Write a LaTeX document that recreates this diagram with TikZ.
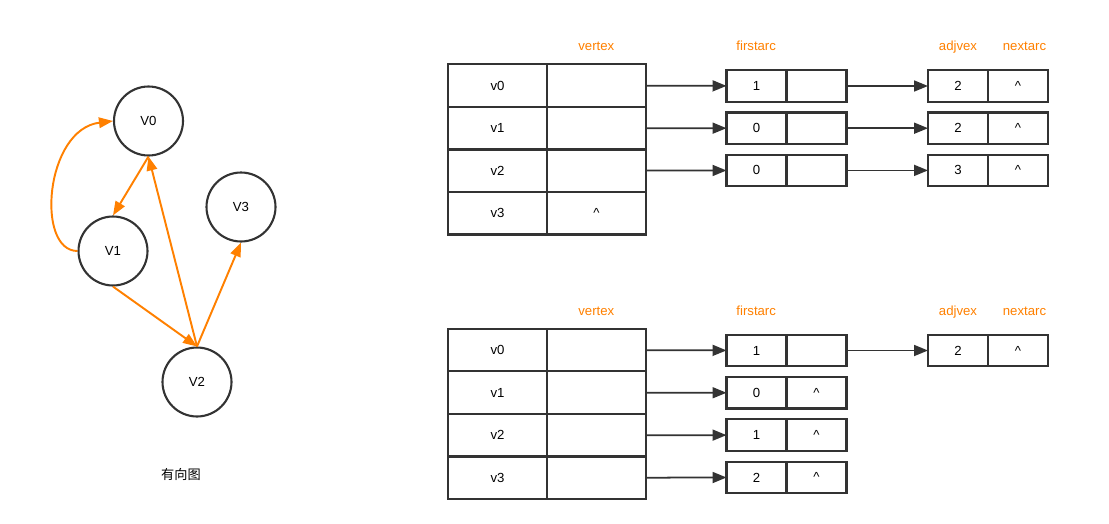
\documentclass[tikz,border=0pt]{standalone}
\usepackage{fontspec}
\setmainfont{Liberation Sans}
\newfontfamily\cjk{Noto Sans CJK SC}
\usetikzlibrary{arrows.meta}
\definecolor{edgeorange}{RGB}{255,128,0}
\definecolor{linegray}{RGB}{51,51,51}

\begin{document}
\begin{tikzpicture}[x=0.02cm, y=-0.02cm, font=\fontsize{7.5}{9}\selectfont]
	\tikzstyle{vert}=[circle, draw=linegray, line width=1.2pt, minimum size=1.38cm, inner sep=0pt]
	\tikzstyle{cell}=[rectangle, draw=linegray, line width=1.2pt, minimum width=1.98cm, minimum height=0.85cm, inner sep=0pt, outer sep=0pt]
	\tikzstyle{box}=[rectangle, draw=linegray, line width=1.2pt, minimum width=1.2cm, minimum height=0.63cm, inner sep=0pt, outer sep=0pt]
	\tikzstyle{field}=[text=edgeorange, anchor=base]
	\tikzstyle{link}=[draw=linegray, line width=1pt, -{Triangle[length=0.28cm, width=0.22cm]}]
	\tikzstyle{dirarc}=[draw=edgeorange, line width=1.1pt, -{Triangle[length=0.28cm, width=0.21cm]}]
	\useasboundingbox (0,0) rectangle (1109,524);
	% Graph
	\node at (148.5,121) [vert] (V0) {V0};
	\node at (113,251) [vert] (V1) {V1};
	\node at (197,382) [vert] (V2) {V2};
	\node at (241,207) [vert] (V3) {V3};
	\node at (181,474.5) (caption) {\cjk 有向图};
	\draw[dirarc] (V0.south) to (V1.north);
	\draw[dirarc] (V1.west) to[out=180, in=187, out distance=0.84cm, in distance=1.37cm] (V0.west);
	\draw[dirarc] (V1.south) to (V2.north);
	\draw[dirarc] (V2.north) to (V0.south);
	\draw[dirarc] (V2.north) to (V3.south);
	%---------------------%
	% Top: field names
	\node at (596.3,50.5) [field] (tlab_vertex) {vertex};
	\node at (756.2,50.5) [field] (tlab_firstarc) {firstarc};
	\node at (958,50.5) [field] (tlab_adjvex) {adjvex};
	\node at (1024.5,50.5) [field] (tlab_nextarc) {nextarc};
	% Top: vertex table
	\foreach \i in {0,...,3}
		\node at (497.5, 85.5+\i*42.6) [cell] (tname_\i) {v\i};
	\foreach \i/\t in {0/{},1/{},2/{},3/\textasciicircum}
		\node at (596.5, 85.5+\i*42.6) [cell] (tfirst_\i) {\t};
	% Top: arc nodes
	\foreach \i/\a in {0/1,1/0,2/0} {
		\node at (756.5, 86+\i*42.2) [box] (tarc_\i) {\a};
		\node at (816.5, 86+\i*42.2) [box] (tnext_\i) {};
	}
	\foreach \i/\a in {0/2,1/2,2/3} {
		\node at (958, 86+\i*42.2) [box] (tadj_\i) {\a};
		\node at (1018, 86+\i*42.2) [box] (tlink_\i) {\textasciicircum};
	}
	\foreach \i in {0,1,2} {
		\draw[link] (tfirst_\i) -- (tarc_\i);
		\draw[link] (tnext_\i) -- (tadj_\i);
	}
	%---------------------%
	% Bottom: field names
	\node at (596.3,315.3) [field] (blab_vertex) {vertex};
	\node at (756.2,315.3) [field] (blab_firstarc) {firstarc};
	\node at (958,315.3) [field] (blab_adjvex) {adjvex};
	\node at (1024.5,315.3) [field] (blab_nextarc) {nextarc};
	% Bottom: vertex table
	\foreach \i in {0,...,3} {
		\node at (497.5, 350+\i*42.6) [cell] (bname_\i) {v\i};
		\node at (596.5, 350+\i*42.6) [cell] (bfirst_\i) {};
	}
	% Bottom: arc nodes
	\foreach \i/\a/\t in {0/1/{},1/0/\textasciicircum,2/1/\textasciicircum,3/2/\textasciicircum} {
		\node at (756.5, 350.5+\i*42.3) [box] (barc_\i) {\a};
		\node at (816.5, 350.5+\i*42.3) [box] (bnext_\i) {\t};
		\draw[link] (bfirst_\i) -- (barc_\i);
	}
	\node at (958, 350.5) [box] (badj_0) {2};
	\node at (1018, 350.5) [box] (blink_0) {\textasciicircum};
	\draw[link] (bnext_0) -- (badj_0);
	%---------------------%
\end{tikzpicture}
\end{document}
